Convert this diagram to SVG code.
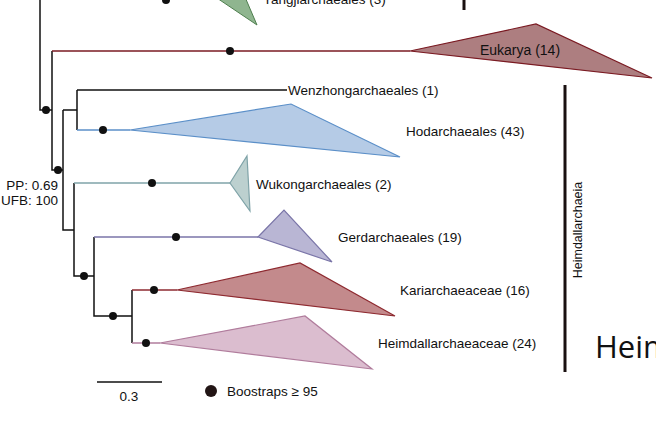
<svg xmlns="http://www.w3.org/2000/svg" width="656" height="426" viewBox="0 0 656 426">
<style>
text{font-family:"Liberation Sans",Arial,sans-serif;font-size:13.5px;fill:#111}
.e{stroke:#111;stroke-width:1.5;fill:none}
.d{fill:#111}
</style>
<rect width="656" height="426" fill="#fff"/>
<g id="connectors">
<path class="e" d="M40 0V110H52M52 51V170H63M63 110H77M77 90V130M63 110V230H74M74 183V276H94M94 237V316H132M132 290V343"/>
<path class="e" d="M77 90H287"/>
<path d="M52 51H410" stroke="#7a1a22" stroke-width="1.5"/>
<path d="M77 130H130" stroke="#5b8fc8" stroke-width="1.5"/>
<path d="M74 183H230" stroke="#7fa3a8" stroke-width="1.5"/>
<path d="M94 237H258" stroke="#7a75a8" stroke-width="1.5"/>
<path d="M132 290H177" stroke="#8e2a30" stroke-width="1.5"/>
<path d="M132 343H160" stroke="#b07c9c" stroke-width="1.5"/>
<circle class="d" cx="166" cy="0" r="4"/>
<circle class="d" cx="230" cy="51" r="4"/>
<circle class="d" cx="46" cy="110" r="4"/>
<circle class="d" cx="58" cy="170" r="4"/>
<circle class="d" cx="103" cy="130" r="4"/>
<circle class="d" cx="152" cy="183" r="4"/>
<circle class="d" cx="176" cy="237" r="4"/>
<circle class="d" cx="84" cy="276" r="4"/>
<circle class="d" cx="113" cy="316" r="4"/>
<circle class="d" cx="154" cy="290" r="4"/>
<circle class="d" cx="146" cy="343" r="4"/>
</g>
<g id="yangji"><polygon points="205,-10 242,-10 257,25" fill="#8fb58f" stroke="#4e7e4e"/><text x="263" y="4">Yangjiarchaeales (3)</text></g>
<g id="eukarya"><polygon points="410,51 536,24 652,78" fill="#ad7e80" stroke="#7a1a22" stroke-width="1.2"/><text x="520" y="55" text-anchor="middle" style="font-size:14px">Eukarya (14)</text></g>
<g id="wenzhong"><text x="288" y="95">Wenzhongarchaeales (1)</text></g>
<g id="hodar"><polygon points="130,130 291,104 400,157" fill="#b5cbe6" stroke="#5b8fc8" stroke-width="1.2"/><text x="406" y="136">Hodarchaeales (43)</text></g>
<g id="wukong"><polygon points="230,183 247,156 250,211" fill="#bcd0cf" stroke="#7fa3a8" stroke-width="1.2"/><text x="256" y="189">Wukongarchaeales (2)</text></g>
<g id="gerd"><polygon points="258,237 284,210 332,262" fill="#b9b6d4" stroke="#7a75a8" stroke-width="1.2"/><text x="338" y="242">Gerdarchaeales (19)</text></g>
<g id="kari"><polygon points="177,290 300,263 395,316" fill="#c38a8c" stroke="#8e2a30" stroke-width="1.2"/><text x="400" y="295">Kariarchaeaceae (16)</text></g>
<g id="heimdall"><polygon points="160,343 305,316 372,369" fill="#dbbdcf" stroke="#b07c9c" stroke-width="1.2"/><text x="378" y="348">Heimdallarchaeaceae (24)</text></g>
<g id="pp"><text x="58" y="190" text-anchor="end">PP: 0.69</text><text x="58" y="205" text-anchor="end">UFB: 100</text></g>
<g id="clade">
<path d="M464 0V10M565 85V372" stroke="#1a1010" stroke-width="3"/>
<text transform="translate(582 230) rotate(-90)" text-anchor="middle" style="font-size:12.5px">Heimdallarchaeia</text>
<text x="595" y="358" style="font-size:31px;font-family:'Open Sans','Liberation Sans',sans-serif">Heim</text>
</g>
<g id="legend">
<path d="M97 382H162" stroke="#111" stroke-width="1.5"/>
<text x="129" y="401" text-anchor="middle">0.3</text>
<circle cx="211" cy="391" r="6" fill="#221515"/>
<text x="227" y="396">Boostraps ≥ 95</text>
</g>
</svg>
